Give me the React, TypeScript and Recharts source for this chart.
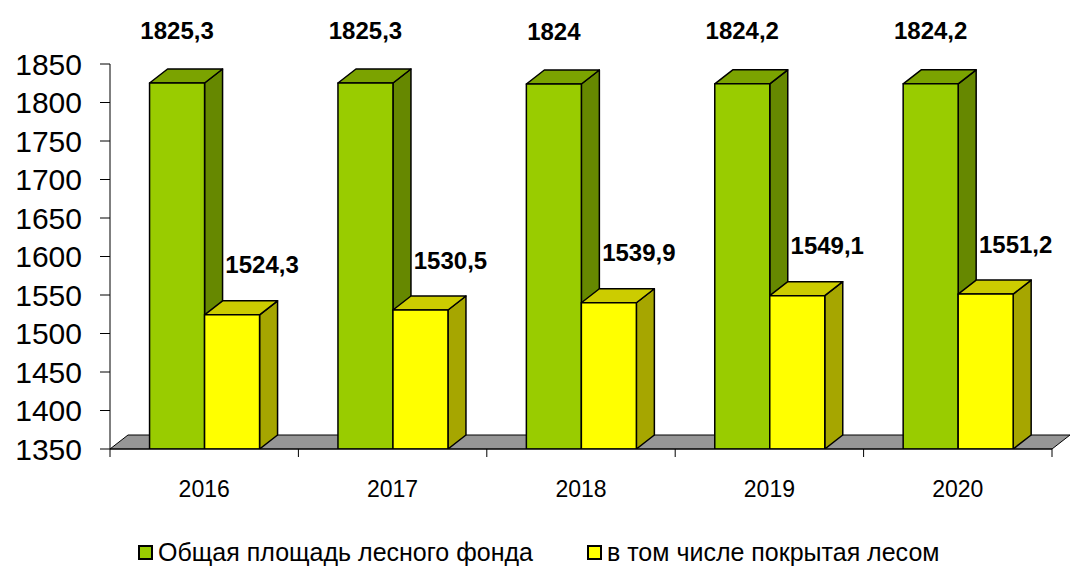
import React from 'react'
import { BarChart, Bar, XAxis, YAxis, Legend, LabelList, ReferenceArea } from 'recharts'

const years = ['2016', '2017', '2018', '2019', '2020']
const totalArea = [1825.3, 1825.3, 1824, 1824.2, 1824.2]
const forestCovered = [1524.3, 1530.5, 1539.9, 1549.1, 1551.2]
const yTicks = [1350, 1400, 1450, 1500, 1550, 1600, 1650, 1700, 1750, 1800, 1850]
const seriesNames = ['Общая площадь лесного фонда', 'в том числе покрытая лесом']

const data = years.map((year, i) => ({ year, total: totalArea[i], covered: forestCovered[i] }))

const FONT = '"Liberation Sans", Arial, sans-serif'
const DX = 18
const DY = 14

const GREEN = { front: '#99CC00', top: '#7BA300', side: '#668800' }
const YELLOW = { front: '#FFFF00', top: '#CCCC00', side: '#A6A600' }

const fmt = (v: number) => String(v).replace('.', ',')

function box3d(c: { front: string; top: string; side: string }) {
  return (props: any) => {
    const { x, y, width, height } = props
    const b = y + height
    const r = x + width
    return (
      <g stroke="#000" strokeWidth={1.5} strokeLinejoin="round">
        <polygon points={`${r},${y} ${r + DX},${y - DY} ${r + DX},${b - DY} ${r},${b}`} fill={c.side} />
        <polygon points={`${x},${y} ${x + DX},${y - DY} ${r + DX},${y - DY} ${r},${y}`} fill={c.top} />
        <rect x={x} y={y} width={width} height={height} fill={c.front} />
      </g>
    )
  }
}

function Floor(props: any) {
  const { x, width, y, height } = props
  const b = y + height
  return (
    <polygon
      points={`${x},${b} ${x + width},${b} ${x + width + DX},${b - DY} ${x + DX},${b - DY}`}
      fill="#969696"
      stroke="#000"
      strokeWidth={1}
    />
  )
}

function YearTick(props: any) {
  const { x, y, payload, index } = props
  const half = payload?.offset || 94
  return (
    <g>
      <line x1={x - half} y1={y} x2={x - half} y2={y + 8} stroke="#000" />
      {index === years.length - 1 && <line x1={x + half} y1={y} x2={x + half} y2={y + 8} stroke="#000" />}
      <text x={x} y={y + 40} textAnchor="middle" dominantBaseline="central" fontSize={23} fontFamily={FONT} fill="#000">
        {payload.value}
      </text>
    </g>
  )
}

const TotalLabel = (props: any) => {
  const { x, y, width, value } = props
  return (
    <text x={x + width / 2} y={y - 53} textAnchor="middle" dominantBaseline="central" fontSize={24} fontWeight="bold" fontFamily={FONT} fill="#000">
      {fmt(value)}
    </text>
  )
}

const CoveredLabel = (props: any) => {
  const { x, y, width, value } = props
  return (
    <text x={x + width / 2 + 30} y={y - 50} textAnchor="middle" dominantBaseline="central" fontSize={24} fontWeight="bold" fontFamily={FONT} fill="#000">
      {fmt(value)}
    </text>
  )
}

function LegendContent() {
  const items = [
    { name: seriesNames[0], color: GREEN.front },
    { name: seriesNames[1], color: YELLOW.front },
  ]
  return (
    <div style={{ display: 'flex', alignItems: 'center', height: 30, paddingLeft: 138, gap: 54, fontFamily: FONT, fontSize: 25, color: '#000' }}>
      {items.map((it) => (
        <div key={it.name} style={{ display: 'flex', alignItems: 'center' }}>
          <span style={{ width: 11, height: 11, border: '2px solid #000', background: it.color, marginRight: 5 }} />
          <span>{it.name}</span>
        </div>
      ))}
    </div>
  )
}

export default function App() {
  return (
    <div style={{ position: 'absolute', left: 0, top: 0, background: '#fff' }}>
      <BarChart
        width={1084}
        height={567}
        data={data}
        margin={{ top: 64, right: 32, left: 0, bottom: 0 }}
        barCategoryGap="21%"
        barGap={0}
      >
        <ReferenceArea y1={1350} y2={1400} shape={<Floor />} zIndex={-10} ifOverflow="visible" />
        <XAxis
          dataKey="year"
          height={88}
          axisLine={{ stroke: '#000' }}
          tickLine={false}
          tickSize={0}
          tickMargin={0}
          tick={<YearTick />}
          interval={0}
        />
        <YAxis
          domain={[1350, 1850]}
          ticks={yTicks}
          interval={0}
          width={110}
          tickSize={10}
          tickMargin={18}
          axisLine={{ stroke: '#000' }}
          tickLine={{ stroke: '#000' }}
          tick={{ fontSize: 30, fontFamily: FONT, fill: '#000' }}
          allowDataOverflow
        />
        <Legend verticalAlign="bottom" content={<LegendContent />} wrapperStyle={{ left: 0, width: 1084 }} />
        <Bar dataKey="total" name={seriesNames[0]} shape={box3d(GREEN)} isAnimationActive={false}>
          <LabelList dataKey="total" content={<TotalLabel />} />
        </Bar>
        <Bar dataKey="covered" name={seriesNames[1]} shape={box3d(YELLOW)} isAnimationActive={false}>
          <LabelList dataKey="covered" content={<CoveredLabel />} />
        </Bar>
      </BarChart>
    </div>
  )
}
